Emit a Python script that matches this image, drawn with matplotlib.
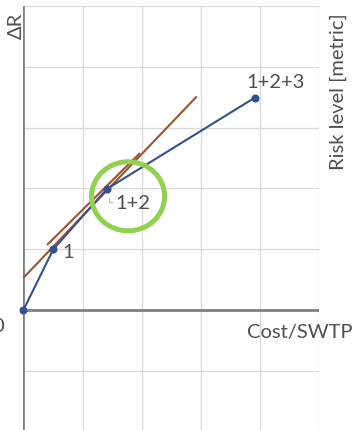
import matplotlib
matplotlib.use("Agg")
import matplotlib.pyplot as plt
from matplotlib.patches import Ellipse

# ---- data ----
cost = [0.0, 0.507, 1.41, 3.91]
risk = [0.0, 1.0, 1.99, 3.49]
point_labels = ["", "1", "1+2", "1+2+3"]
label_offsets = [(0, 0), (10.5, -1.8), (18.5, -10), (15, 11.5)]  # points

tangent_x = [0.0, 2.93]
tangent_y = [0.53, 3.51]
tangent2_x = [0.40, 1.97]
tangent2_y = [1.07, 2.58]

circle_center = (1.77, 1.87)
circle_radii = (0.617, 0.567)

x_label = "Cost/SWTP"
y_label = "Risk level [metric]"
dr_label = "ΔR"
zero_label = "0"

# ---- style ----
plt.rcParams['font.family'] = ['Lato', 'DejaVu Sans']
TXT = '#4F4F4F'
GRID = '#D9D9D9'
AXC = '#808080'
BLUE = '#34508F'
BROWN = '#A0522D'
GREEN = '#92D050'
FS = 14.5

W, H = 354, 431
fig = plt.figure(figsize=(W / 100, H / 100), dpi=100)
left = 23.3 / W
right = 319.3 / W
top = 1 - 6.7 / H
bottom = (H - 433.0) / H
ax = fig.add_axes([left, bottom, right - left, top - bottom])
ax.set_xlim(0, 5)
ax.set_ylim(-2, 5)
for s in ax.spines.values():
    s.set_visible(False)
ax.set_xticks(range(0, 6))
ax.set_yticks(range(-2, 6))
ax.tick_params(length=0, labelleft=False, labelbottom=False)
ax.grid(True, color=GRID, lw=0.9, zorder=0)
ax.set_axisbelow(True)
ax.patch.set_alpha(0)

# axes lines
ax.axvline(0, color=AXC, lw=2.0, zorder=1)
ax.axhline(0, color=AXC, lw=2.0, zorder=1)

# brown tangent lines
ax.plot(tangent_x, tangent_y, color=BROWN, lw=1.5, zorder=2, solid_capstyle='butt')
ax.plot(tangent2_x, tangent2_y, color=BROWN, lw=1.5, zorder=2, solid_capstyle='butt')

# blue curve
ax.plot(cost, risk, color=BLUE, lw=1.5, marker='o', ms=4.8, zorder=3, clip_on=False)

# labels
for xv, yv, lab, off in zip(cost, risk, point_labels, label_offsets):
    if lab:
        ax.annotate(lab, (xv, yv), xytext=off, textcoords='offset points',
                    ha='center', va='center', fontsize=FS, color=TXT, zorder=5)

# leader line for 1+2
lx, ly = cost[2], risk[2]
ax.plot([lx + 0.04, lx + 0.04, lx + 0.09], [ly - 0.15, ly - 0.22, ly - 0.22],
        color='#BFBFBF', lw=0.8, zorder=4)

# green circle
ax.add_patch(Ellipse(circle_center, 2 * circle_radii[0], 2 * circle_radii[1],
                     fill=False, ec=GREEN, lw=3.6, zorder=4))

# axis titles
fig.text(299.5 / W, 1 - 333 / H, x_label, ha='center', va='center', fontsize=FS, color=TXT)
fig.text(338 / W, 1 - 92 / H, y_label, ha='center', va='center', rotation=90, fontsize=FS, color=TXT)
fig.text(16.5 / W, 1 - 26 / H, dr_label, ha='center', va='center', rotation=90, fontsize=FS, color=TXT)
fig.text(4.5 / W, 1 - 327 / H, zero_label, ha='right', va='center', fontsize=FS, color=TXT)

fig.savefig('out.png', dpi=100)
